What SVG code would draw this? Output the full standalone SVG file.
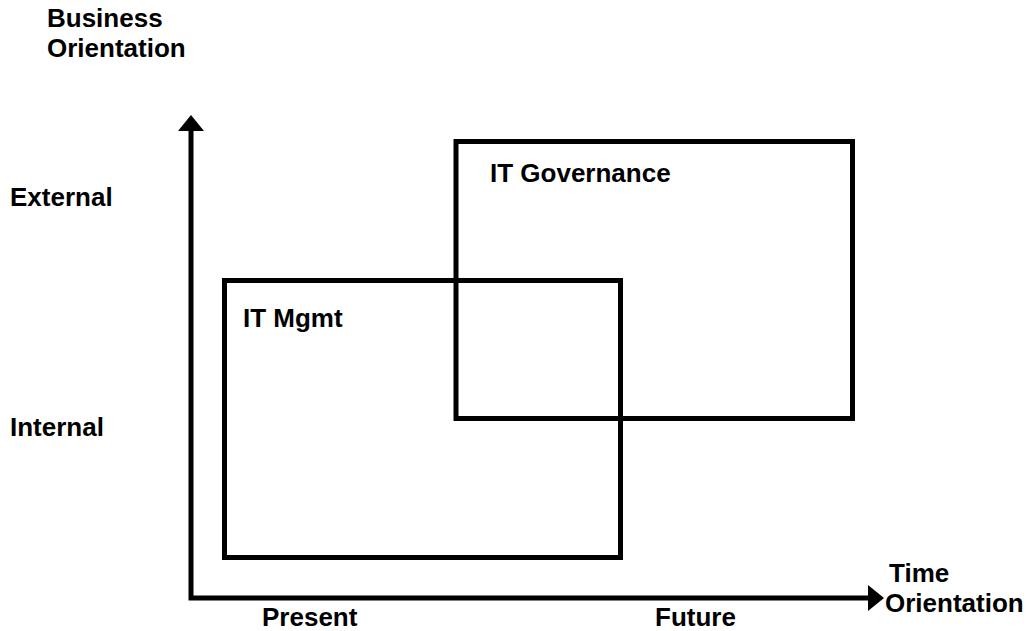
<svg xmlns="http://www.w3.org/2000/svg" width="1031" height="631" viewBox="0 0 1031 631">
<style>
text{font-family:"Liberation Sans",Arial,sans-serif;font-weight:bold;font-size:26px;fill:#000}
.box{fill:none;stroke:#000;stroke-width:5}
.axis{fill:none;stroke:#000;stroke-width:5}
</style>
<defs>
<marker id="ah" viewBox="0 0 16 26" refX="0" refY="13" markerWidth="16" markerHeight="26" markerUnits="userSpaceOnUse" orient="auto-start-reverse">
<path d="M0,0 L16,13 L0,26 Z" fill="#000"/>
</marker>
</defs>
<rect width="1031" height="631" fill="#fff"/>
<g id="connectors">
<path class="axis" d="M191,131 L191,598 L868,598" marker-start="url(#ah)" marker-end="url(#ah)"/>
</g>
<g id="it-mgmt">
<rect class="box" x="224.5" y="280.5" width="396" height="277"/>
<text x="243" y="327">IT Mgmt</text>
</g>
<g id="it-governance">
<rect class="box" x="456" y="141.5" width="396.5" height="277"/>
<text x="490" y="182">IT Governance</text>
</g>
<g id="labels">
<text x="47" y="27">Business</text>
<text x="47" y="57">Orientation</text>
<text x="10" y="206">External</text>
<text x="10" y="436">Internal</text>
<text x="262" y="626">Present</text>
<text x="655" y="626">Future</text>
<text x="889" y="582">Time</text>
<text x="885" y="612">Orientation</text>
</g>
</svg>
